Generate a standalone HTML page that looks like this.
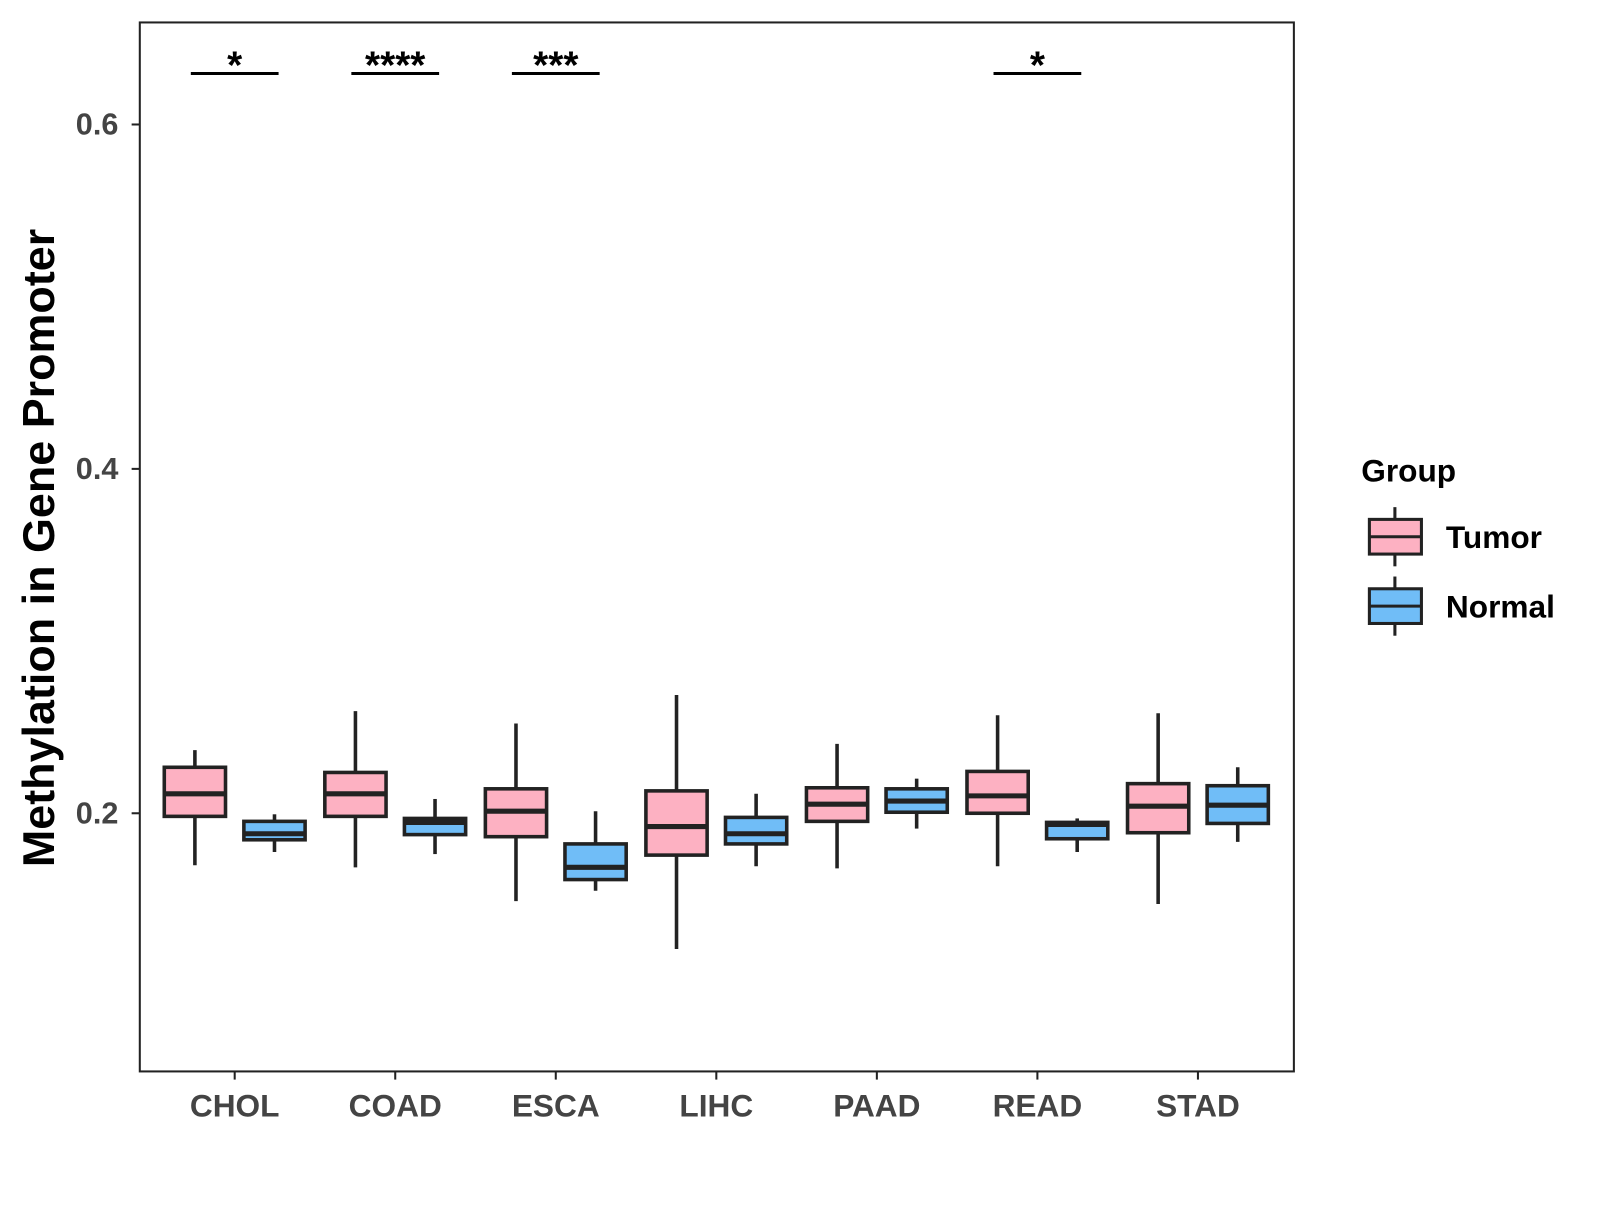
<!DOCTYPE html>
<html><head><meta charset="utf-8"><style>
body{margin:0;background:#fff}
svg text{font-family:"Liberation Sans",Arial,sans-serif;font-weight:bold}
</style></head><body>
<svg id="chart" width="1600" height="1200" viewBox="0 0 1568 1176" xmlns="http://www.w3.org/2000/svg">
<rect x="137" y="22" width="1131" height="1028" fill="#fff" stroke="#222" stroke-width="2"/>
<g id="marks"></g>
<text transform="translate(53,537) rotate(-90)" text-anchor="middle" font-size="44" fill="#000">Methylation in Gene Promoter</text>
<g>
<text x="1334" y="472" font-size="31" fill="#000">Group</text>
<g>
<line x1="1367" y1="497" x2="1367" y2="555" stroke="#222" stroke-width="3"/>
<rect x="1342" y="509" width="51" height="34" fill="#FDB1C2" stroke="#222" stroke-width="3"/>
<line x1="1342" y1="526" x2="1393" y2="526" stroke="#222" stroke-width="3"/>
<text x="1417" y="537" font-size="31" fill="#000">Tumor</text></g>
<g>
<line x1="1367" y1="565" x2="1367" y2="623" stroke="#222" stroke-width="3"/>
<rect x="1342" y="577" width="51" height="34" fill="#70BDF7" stroke="#222" stroke-width="3"/>
<line x1="1342" y1="594" x2="1393" y2="594" stroke="#222" stroke-width="3"/>
<text x="1417" y="605" font-size="31" fill="#000">Normal</text></g>
</g>
</svg>
<script>
const categories=["CHOL","COAD","ESCA","LIHC","PAAD","READ","STAD"];
// [lowWhisker, q1, median, q3, highWhisker]
const tumorStats=[[0.1698,0.1982,0.2113,0.2267,0.2367],[0.1686,0.1982,0.2113,0.2237,0.2593],[0.1490,0.1864,0.2012,0.2142,0.2521],[0.1212,0.1757,0.1923,0.2130,0.2687],[0.1680,0.1953,0.2053,0.2148,0.2403],[0.1692,0.2000,0.2101,0.2243,0.2569],[0.1473,0.1887,0.2041,0.2172,0.2581]];
const normalStats=[[0.1775,0.1846,0.1881,0.1953,0.1994],[0.1763,0.1876,0.1947,0.1970,0.2083],[0.1550,0.1615,0.1686,0.1822,0.2012],[0.1692,0.1822,0.1881,0.1976,0.2113],[0.1911,0.2006,0.2071,0.2142,0.2201],[0.1775,0.1852,0.1935,0.1947,0.1970],[0.1834,0.1941,0.2047,0.2160,0.2267]];
const sigLabels=["*","****","***","","","*",""];
const yTicks=[0.2,0.4,0.6];
const NS="http://www.w3.org/2000/svg";
const g=document.getElementById('marks');
function y(v){return 797-(v-0.2)*1687.5;}
function x(i){return 230+i*157.33;}
function mk(t,a,p){const e=document.createElementNS(NS,t);for(const k in a)e.setAttribute(k,a[k]);(p||g).appendChild(e);return e;}
yTicks.forEach(t=>{
  const l=mk('line',{x1:129,x2:137,y1:y(t),y2:y(t),stroke:'#222','stroke-width':2});
  
  
  const tx=mk('text',{x:116,y:y(t)+10,'text-anchor':'end','font-size':30,fill:'#444'});
  tx.textContent=t.toFixed(1);
  
  
});
categories.forEach((c,i)=>{
  const l=mk('line',{x1:x(i),x2:x(i),y1:1050,y2:1058,stroke:'#222','stroke-width':2});
  
  
  const tx=mk('text',{x:x(i),y:1094,'text-anchor':'middle','font-size':31,fill:'#444'});
  tx.textContent=c;
  
  
  [[tumorStats[i],-39,'#FDB1C2','tumor'],[normalStats[i],39,'#70BDF7','normal']].forEach(([s,off,col,nm])=>{
    const cx=x(i)+off;
    const grp=mk('g',{});
    
    
    mk('line',{x1:cx,x2:cx,y1:y(s[4]),y2:y(s[0]),stroke:'#222','stroke-width':3.5},grp);
    mk('rect',{x:cx-30,y:y(s[3]),width:60,height:y(s[1])-y(s[3]),fill:col,stroke:'#222','stroke-width':3.5},grp);
    mk('line',{x1:cx-30,x2:cx+30,y1:y(s[2]),y2:y(s[2]),stroke:'#222','stroke-width':5},grp);
  });
  if(sigLabels[i]){
    const sl=mk('line',{x1:x(i)-43,x2:x(i)+43,y1:72,y2:72,stroke:'#000','stroke-width':3});
    
    
    const st=mk('text',{x:x(i),y:77,'text-anchor':'middle','font-size':38,fill:'#000'});
    st.textContent=sigLabels[i];
    
    
  }
});
</script>
</body></html>
